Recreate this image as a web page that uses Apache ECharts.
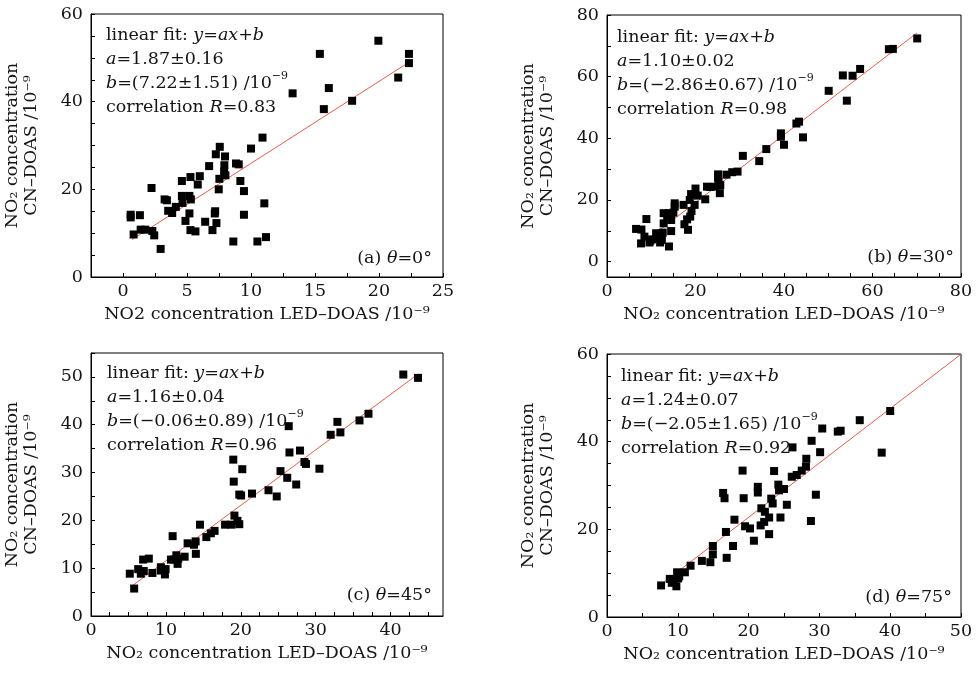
<!DOCTYPE html>
<html><head><meta charset="utf-8">
<script src="https://cdn.jsdelivr.net/npm/echarts@6.0.0/dist/echarts.min.js"></script>
<style>html,body{margin:0;padding:0;background:#fff}#c{width:980px;height:677px}</style>
</head><body><div id="c"></div>
<script>
// ---- Panel (a) θ=0° ----
const aX = [0.6,0.6,0.83,1.32,1.38,1.74,2.23,2.29,2.44,2.94,3.25,3.43,3.53,3.84,4.13,4.6,4.6,4.65,4.88,5.19,5.27,5.3,5.19,5.27,5.66,5.84,6.0,6.42,6.73,6.99,7.17,7.2,7.3,7.25,7.48,7.53,7.56,7.97,7.92,7.9,8.0,8.62,8.83,9.04,9.17,9.45,9.45,10.0,10.5,10.9,11.04,11.17,13.25,15.38,15.69,16.08,17.9,19.95,21.5,22.34,22.34];
const aY = [14.2,13.6,9.7,14.1,10.8,10.8,20.3,10.5,9.5,6.4,17.7,17.5,15.1,14.6,16.0,21.9,18.5,16.9,12.8,18.5,22.8,17.7,14.5,10.7,10.4,21.1,23.0,12.6,25.3,10.7,14.5,15.0,12.3,28.0,20.0,22.4,29.7,27.5,25.5,24.1,23.2,8.1,25.9,25.7,21.9,19.6,14.2,29.3,8.1,31.8,16.8,9.1,41.9,50.9,38.3,43.1,40.2,53.9,45.5,50.9,48.8];
// ---- Panel (b) θ=30° ----
const bX = [6.57,7.78,8.9,7.7,8.46,9.6,9.8,10.2,11.1,11.6,12.0,12.4,12.6,12.8,12.8,13.6,14.0,14.0,14.5,14.5,15.0,15.3,15.3,17.3,17.5,18.1,18.3,18.7,18.8,19.0,19.1,19.8,20.0,20.5,22.2,22.6,23.3,24.3,25.1,25.1,25.2,25.5,25.6,27.0,28.3,29.5,30.7,34.4,36.0,39.3,39.3,40.0,42.8,43.4,44.3,50.1,53.3,54.2,55.5,57.2,63.7,64.6,70.1];
const bY = [10.6,10.4,13.8,5.9,8.1,6.2,6.8,7.2,9.2,7.6,6.2,7.0,9.4,12.4,15.7,14.6,15.7,4.9,9.9,13.5,15.9,18.9,17.8,18.4,12.1,13.7,10.3,20.0,14.6,21.9,16.4,18.4,23.7,21.4,20.2,24.3,24.2,24.3,28.3,27.2,25.9,22.2,24.8,28.2,29.0,29.2,34.3,32.6,36.5,41.6,40.5,37.9,44.8,45.4,40.3,55.4,60.4,52.2,60.3,62.5,68.9,69.0,72.4];
// ---- Panel (c) θ=45° ----
const cX = [5.18,5.76,6.3,6.65,7.05,6.96,7.72,8.2,9.33,9.33,9.87,9.96,10.9,10.67,11.07,11.4,11.56,11.65,12.5,12.9,13.75,13.97,14.0,14.55,15.4,16.0,16.5,17.9,18.75,19.0,19.06,19.15,19.55,19.8,19.8,20.04,20.2,21.5,23.7,24.8,25.3,26.2,26.4,26.5,27.4,27.9,28.5,28.7,30.5,32.0,32.9,33.3,35.85,37.05,41.7,43.66];
const cY = [8.85,5.74,9.8,8.85,9.4,11.8,12.0,9.0,10.2,9.5,8.7,9.8,16.7,11.8,11.8,12.7,10.9,12.0,12.4,15.2,14.9,15.6,13.0,19.1,16.5,17.3,17.8,19.1,19.1,32.7,28.1,21.0,19.9,19.2,25.4,25.2,30.7,25.6,26.3,25.0,30.3,28.9,39.7,34.2,27.5,34.6,32.2,31.8,30.8,37.9,40.6,38.4,40.9,42.3,50.5,49.8];
// ---- Panel (d) θ=75° ----
const dX = [7.64,8.87,9.15,9.43,9.8,9.9,10.05,10.2,11.0,11.8,13.4,14.6,14.95,14.95,16.4,16.6,16.8,16.9,17.8,18.0,19.15,19.3,19.5,20.2,20.75,21.3,21.3,21.7,21.8,22.2,22.3,22.9,22.9,23.2,23.4,23.6,24.2,24.3,24.5,25.0,25.4,26.2,26.1,26.8,27.5,28.1,28.15,28.9,28.8,29.5,30.1,30.4,32.6,33.0,35.7,38.8,40.0];
const dY = [7.2,8.7,7.8,8.4,7.0,10.2,8.8,9.3,10.2,11.7,12.8,12.5,14.3,16.2,28.3,27.1,19.4,13.5,16.2,22.2,33.4,27.1,20.7,20.2,17.4,29.7,28.4,20.9,24.8,21.7,24.0,22.7,18.9,27.0,25.9,33.3,30.2,28.9,22.7,29.2,25.6,38.7,32.0,32.4,33.4,34.3,36.1,40.2,21.9,27.9,37.6,43.0,42.3,42.5,44.9,37.5,47.0];

// Fit results (slope, intercept) and fitted x-span
const fitSlope = [1.87, 1.10, 1.16, 1.24];
const fitIntercept = [7.22, -2.86, -0.06, -2.05];
const fitXStart = [0.7, 6.8, 5.3, 7.6];
const fitXEnd = [22.3, 70.0, 43.7, 50.0];

// Annotation texts
const fitTexts = [
  ['1.87±0.16', '(7.22±1.51)', '0.83', '(a)', '0°'],
  ['1.10±0.02', '(−2.86±0.67)', '0.98', '(b)', '30°'],
  ['1.16±0.04', '(−0.06±0.89)', '0.96', '(c)', '45°'],
  ['1.24±0.07', '(−2.05±1.65)', '0.92', '(d)', '75°']
];

// Axes: ranges and tick values
const xRanges = [[-2.5, 25], [0, 80], [0, 47], [0, 50]];
const yRanges = [[0, 60], [-5, 80], [0, 55], [0, 60]];
const xLabels = [[0,5,10,15,20,25],[0,20,40,60,80],[0,10,20,30,40],[0,10,20,30,40,50]];
const yLabels = [[0,20,40,60],[0,20,40,60,80],[0,10,20,30,40,50],[0,20,40,60]];
const xTickStep = [2.5, 5, 2.5, 5];
const yTickStep = [5, 10, 5, 5];
const xTitles = ['NO2 concentration LED–DOAS /10⁻⁹','NO₂ concentration LED–DOAS /10⁻⁹','NO₂ concentration LED–DOAS /10⁻⁹','NO₂ concentration LED–DOAS /10⁻⁹'];
const yTitle = 'NO₂ concentration\nCN–DOAS /10⁻⁹';

const FONT = '"DejaVu Serif", serif';
const FS = 17.5;
const TXT = '#141414';
const grids = [
  {left: 91, top: 14, width: 352, height: 263},
  {left: 607, top: 15, width: 354, height: 262},
  {left: 91, top: 353, width: 352, height: 263},
  {left: 607, top: 354, width: 354, height: 263}
];
const textPos = [[106, 23, 432, 258], [617, 25, 954, 257], [107, 361, 432, 595], [621, 364, 952, 597]];

function ticks(lo, hi, step) {
  const out = [];
  const start = Math.ceil(lo / step - 1e-9) * step;
  for (let v = start; v <= hi + 1e-9; v += step) out.push(+v.toFixed(4));
  return out;
}

const series = [];
const xAxes = [], yAxes = [];
const pts = [[aX,aY],[bX,bY],[cX,cY],[dX,dY]];
const graphics = [];
const rich = {
  i: {fontFamily: FONT, fontStyle: 'italic', fontSize: FS, color: TXT},
  s: {fontFamily: FONT, fontSize: 11, color: TXT, verticalAlign: 'top', padding: [0,0,6,0]}
};

for (let k = 0; k < 4; k++) {
  xAxes.push({
    gridIndex: k, type: 'value', min: xRanges[k][0], max: xRanges[k][1],
    name: xTitles[k], nameLocation: 'middle', nameGap: 28,
    nameTextStyle: {fontFamily: FONT, fontSize: FS, color: TXT},
    axisLine: {show: true, onZero: false, lineStyle: {color: '#000', width: 1}},
    axisTick: {show: true, inside: true, length: 4, lineStyle: {color: '#000'}, customValues: ticks(xRanges[k][0], xRanges[k][1], xTickStep[k])},
    axisLabel: {fontFamily: FONT, fontSize: FS, color: TXT, margin: 5, customValues: xLabels[k]},
    splitLine: {show: false}
  });
  yAxes.push({
    gridIndex: k, type: 'value', min: yRanges[k][0], max: yRanges[k][1],
    name: yTitle, nameLocation: 'middle', nameGap: 50, nameRotate: 90,
    nameTextStyle: {fontFamily: FONT, fontSize: FS, color: TXT, lineHeight: 19},
    axisLine: {show: true, onZero: false, lineStyle: {color: '#000', width: 1}},
    axisTick: {show: true, inside: true, length: 4, lineStyle: {color: '#000'}, customValues: ticks(yRanges[k][0], yRanges[k][1], yTickStep[k])},
    axisLabel: {fontFamily: FONT, fontSize: FS, color: TXT, margin: 8, customValues: yLabels[k]},
    splitLine: {show: false}
  });
  const data = pts[k][0].map((x, i) => [x, pts[k][1][i]]);
  series.push({
    type: 'scatter', xAxisIndex: k, yAxisIndex: k, data: data,
    symbol: 'rect', symbolSize: 8, itemStyle: {color: '#000', opacity: 1}, z: 3, silent: true
  });
  const x0 = fitXStart[k], x1 = fitXEnd[k];
  series.push({
    type: 'line', xAxisIndex: k, yAxisIndex: k,
    data: [[x0, fitSlope[k]*x0 + fitIntercept[k]], [x1, fitSlope[k]*x1 + fitIntercept[k]]],
    symbol: 'none', lineStyle: {color: '#ee5a45', width: 1}, z: 2, silent: true
  });
  const t = fitTexts[k];
  graphics.push({
    type: 'text', left: textPos[k][0], top: textPos[k][1], z: 10,
    style: {
      text: 'linear fit: {i|y}={i|ax}+{i|b}\n{i|a}=' + t[0] + '\n{i|b}=' + t[1] + ' /10{s|−9}\ncorrelation {i|R}=' + t[2],
      font: FS + 'px ' + FONT, fill: TXT, lineHeight: 24, rich: rich
    }
  });
  graphics.push({
    type: 'text', right: 980 - textPos[k][2], top: textPos[k][3] - 12, z: 10,
    style: {
      text: t[3] + ' {i|θ}=' + t[4], font: FS + 'px ' + FONT, fill: TXT, lineHeight: 24, rich: rich
    }
  });
}

const chart = echarts.init(document.getElementById('c'), null, {renderer: 'canvas'});
chart.setOption({
  backgroundColor: '#fff',
  animation: false,
  grid: grids.map(g => Object.assign({show: true, borderColor: '#000', borderWidth: 1, backgroundColor: 'transparent'}, g)),
  xAxis: xAxes,
  yAxis: yAxes,
  series: series,
  graphic: graphics
});
</script>
</body></html>
